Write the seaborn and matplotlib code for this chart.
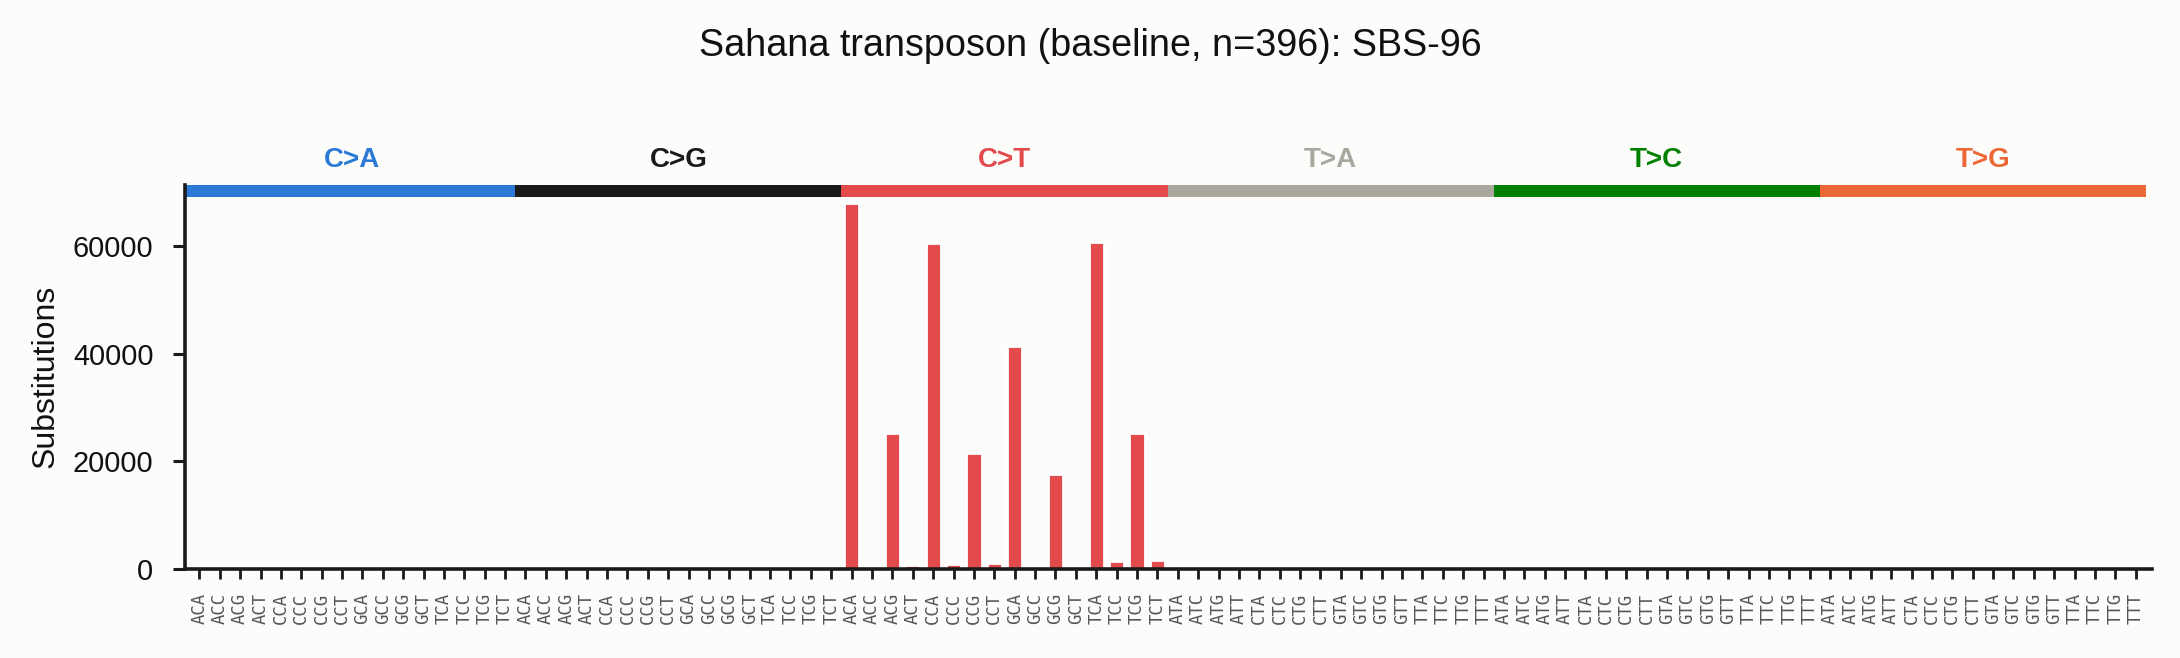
import pandas as pd
import seaborn as sns
import matplotlib.pyplot as plt
import matplotlib.transforms as mtransforms

# classes de substituicao e contextos trinucleotideos (SBS-96)
classes = ["C>A", "C>G", "C>T", "T>A", "T>C", "T>G"]
cores = ["#2A79D4", "#1A1A1A", "#E34A4B", "#A9A79E", "#008000", "#EB6836"]
contextos_c = ["ACA", "ACC", "ACG", "ACT", "CCA", "CCC", "CCG", "CCT",
               "GCA", "GCC", "GCG", "GCT", "TCA", "TCC", "TCG", "TCT"]
contextos_t = ["ATA", "ATC", "ATG", "ATT", "CTA", "CTC", "CTG", "CTT",
               "GTA", "GTC", "GTG", "GTT", "TTA", "TTC", "TTG", "TTT"]

vals_ca = [0] * 16
vals_cg = [0] * 16
vals_ct = [68000, 0, 25250, 700, 60600, 870, 21500, 1060,
           41450, 0, 17600, 0, 60800, 1430, 25250, 1620]
vals_ta = [0] * 16
vals_tc = [0, 0, 0, 0, 0, 0, 0, 0, 0, 0, 0, 450, 0, 0, 0, 0]
vals_tg = [0] * 16

titulo = "Sahana transposon (baseline, n=396): SBS-96"

valores = [vals_ca, vals_cg, vals_ct, vals_ta, vals_tc, vals_tg]
linhas = []
for cls, vals in zip(classes, valores):
    ctx = contextos_c if cls.startswith("C") else contextos_t
    for c, v in zip(ctx, vals):
        linhas.append({"chave": f"{cls}:{c}", "contexto": c, "classe": cls, "valor": v})
df = pd.DataFrame(linhas)

sns.set_style("ticks")
plt.rcParams["font.family"] = ["Liberation Sans", "DejaVu Sans"]
plt.rcParams["text.color"] = "#111111"
plt.rcParams["axes.labelcolor"] = "#111111"
fundo = "#FCFCFB"

fig = plt.figure(figsize=(10.9, 3.29), dpi=200, facecolor=fundo)
ax = fig.add_axes([0.0849, 0.1357, 0.9023, 0.5832])
ax.set_facecolor(fundo)

sns.barplot(data=df, x="chave", y="valor", hue="classe", order=df["chave"],
            hue_order=classes, palette=cores, dodge=False, width=0.75,
            saturation=1, legend=False, ax=ax)

ax.set_xlim(-0.7, 95.8)
ax.set_ylim(0, df["valor"].max() * 1.05)
ax.set_yticks([0, 20000, 40000, 60000])
ax.set_xticks(range(len(df)))
ax.set_xticklabels(df["contexto"], rotation=90, fontsize=6.2,
                   family="DejaVu Sans Mono", color="#555555")
ax.tick_params(axis="x", length=3.6, width=1.0, color="#1A1A1A", pad=5)
ax.tick_params(axis="y", length=4.4, width=1.1, color="#1A1A1A", pad=7,
               labelsize=10.4, labelcolor="#111111")
ax.set_xlabel("")
ax.set_ylabel("Substitutions", fontsize=11.5, labelpad=4.5)
for s in ["left", "bottom"]:
    ax.spines[s].set_linewidth(1.3)
    ax.spines[s].set_color("#1A1A1A")
sns.despine(ax=ax)

# faixas coloridas e rotulos das classes
trans = mtransforms.blended_transform_factory(ax.transData, ax.transAxes)
for i, (cls, cor) in enumerate(zip(classes, cores)):
    ini = -0.7 if i == 0 else 16 * i - 0.5
    ax.add_patch(plt.Rectangle((ini, 0.968), 16 * i + 15.5 - ini, 0.032,
                               transform=trans, color=cor, clip_on=False, lw=0))
    ax.text(16 * i + 7.5, 1.066, cls, transform=trans, ha="center", va="center",
            fontsize=10, fontweight="bold", color=cor)

fig.suptitle(titulo, y=0.93, va="center", fontsize=13.6)
fig.savefig("out.png", dpi=200, facecolor=fundo)
